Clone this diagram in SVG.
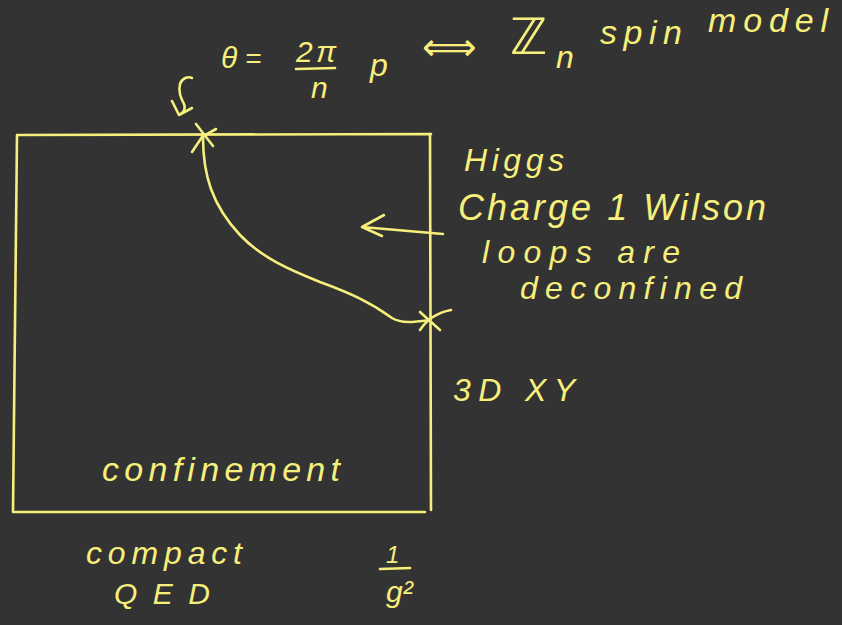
<svg xmlns="http://www.w3.org/2000/svg" width="842" height="625" viewBox="0 0 842 625">
<style>
.ink{fill:none;stroke:#f7ef7c;stroke-width:2.6;stroke-linecap:round;stroke-linejoin:round}
.t{fill:#f7ef7c;font-family:"Liberation Sans","DejaVu Sans",sans-serif;font-style:italic}
</style>
<rect width="842" height="625" fill="#333333"/>
<g id="phase-box">
<path class="ink" d="M17,135 L431,134 M17,135 L13,512 L425,512 M430,134 L431,510"/>
</g>
<g id="connectors">
<path id="phase-boundary" class="ink" d="M203,137 C203,175 212,205 240,235 C262,258 290,270 320,282 C350,293 370,302 392,318 C402,324 415,322 430,320"/>
<path class="ink" d="M443,234 L362,227 M362,227 L384,215 M362,227 L382,236"/>
<path class="ink" d="M192,78 C188,76 182,78 180,84 C178,92 181,98 184,104 C186,109 183,113 179,115 M179,115 L172,101 M179,115 L192,108"/>
</g>
<g id="marker-top">
<path class="ink" d="M196,124 L213,146 M216,129 L202,137 L192,152"/>
</g>
<g id="marker-right">
<path class="ink" d="M420,312 L440,330 M451,310 C440,312 428,318 420,330"/>
</g>
<g id="label-theta" class="t">
<text x="221" y="68" font-size="30">θ</text>
<text x="245" y="68" font-size="28">=</text>
<text x="296" y="62" font-size="30" textLength="40">2π</text>
<path class="ink" d="M296,69 L335,68"/>
<text x="311" y="98" font-size="30">n</text>
<text x="370" y="76" font-size="32">p</text>
<text x="422" y="60" font-size="38" textLength="66">⟺</text>
<text x="510" y="54" font-size="50" font-style="normal" font-family="DejaVu Sans,sans-serif">ℤ</text>
<text x="556" y="68" font-size="32">n</text>
<text x="600" y="44" font-size="34" textLength="82">spin</text>
<text x="708" y="32" font-size="34" textLength="120">model</text>
</g>
<g id="label-higgs" class="t">
<text x="464" y="171" font-size="32" textLength="100">Higgs</text>
<text x="458" y="220" font-size="36" textLength="308">Charge 1 Wilson</text>
<text x="482" y="263" font-size="32" textLength="198">loops are</text>
<text x="520" y="299" font-size="32" textLength="222">deconfined</text>
</g>
<g id="label-xy" class="t">
<text x="453" y="401" font-size="32" textLength="122">3D XY</text>
</g>
<g id="label-confinement" class="t">
<text x="102" y="481" font-size="34" textLength="238">confinement</text>
</g>
<g id="label-qed" class="t">
<text x="86" y="564" font-size="32" textLength="156">compact</text>
<text x="114" y="604" font-size="30" textLength="96">QED</text>
</g>
<g id="label-coupling" class="t">
<text x="386" y="563" font-size="24">1</text>
<path class="ink" d="M380,569 L410,568"/>
<text x="386" y="602" font-size="30">g²</text>
</g>
</svg>
